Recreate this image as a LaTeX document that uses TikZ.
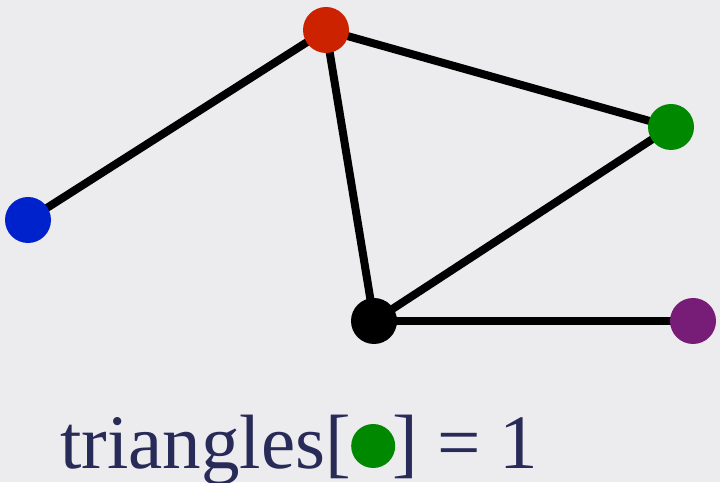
\documentclass[tikz,border=0pt]{standalone}
\usepackage{fontspec}
\setmainfont{Liberation Serif}
\usetikzlibrary{backgrounds}
\definecolor{bg}{RGB}{236,235,238}
\definecolor{nred}{RGB}{204,34,0}
\definecolor{nblue}{RGB}{0,34,204}
\definecolor{ngreen}{RGB}{0,136,0}
\definecolor{npurple}{RGB}{119,28,119}
\definecolor{ink}{RGB}{40,42,88}
\begin{document}
\begin{tikzpicture}[x=1pt,y=1pt,
  vert/.style={circle,inner sep=0pt,minimum size=46pt},
  edge/.style={line width=8pt,black},
  lbl/.style={inner sep=0pt,text=ink,font=\fontsize{77}{81}\selectfont}]
\useasboundingbox (0,0) rectangle (720,482);
\node[vert,fill=nred] (r) at (326,452) {};
\node[vert,fill=nblue] (b) at (28,262) {};
\node[vert,fill=ngreen] (g) at (671,355) {};
\node[vert,fill=black] (k) at (374,161) {};
\node[vert,fill=npurple] (p) at (693,161) {};
\begin{pgfonlayer}{background}
\fill[bg] (0,0) rectangle (720,482);
\draw[edge] (b.center) -- (r.center);
\draw[edge] (r.center) -- (g.center);
\draw[edge] (r.center) -- (k.center);
\draw[edge] (g.center) -- (k.center);
\draw[edge] (k.center) -- (p.center);
\end{pgfonlayer}
\node[lbl,anchor=base west] (t1) at (60,14) {triangles[};
\node[circle,inner sep=0pt,minimum size=44pt,fill=ngreen] (gd) at ([xshift=22pt,yshift=22pt]t1.base east) {};
\node[lbl,anchor=base west] (t2) at ([xshift=41pt]t1.base east) {] = 1};
\end{tikzpicture}
\end{document}
